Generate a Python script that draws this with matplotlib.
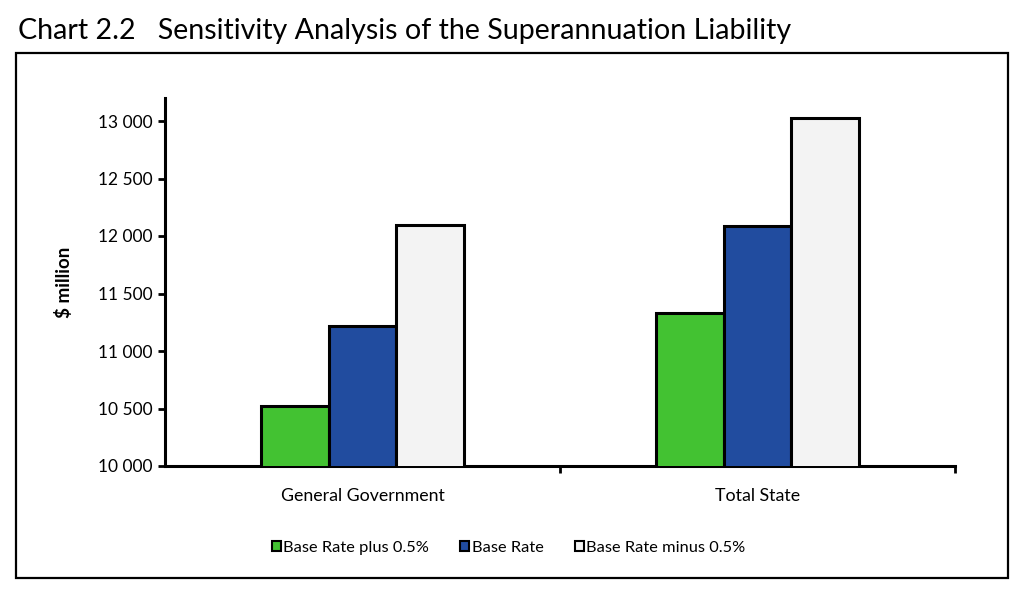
import numpy as np
import matplotlib.pyplot as plt
from matplotlib.patches import Rectangle
from matplotlib.ticker import FuncFormatter

plt.rcParams['font.family'] = ['Lato', 'DejaVu Sans']

# data ($ million)
categories = ['General Government', 'Total State']
series_names = ['Base Rate plus 0.5%', 'Base Rate', 'Base Rate minus 0.5%']
plus_half = [10525, 11330]
base_rate = [11220, 12085]
minus_half = [12100, 13025]
series_colors = ['#43c232', '#214c9f', '#f3f3f3']

fig = plt.figure(figsize=(10.19, 5.90), dpi=100)

# title and outer frame
fig.text(18 / 1019, 1 - 31 / 590, 'Chart 2.2   Sensitivity Analysis of the Superannuation Liability',
         fontsize=20.6, va='center', ha='left')
fig.patches.append(Rectangle((16 / 1019, 1 - 578 / 590), (1008 - 16) / 1019, (578 - 53) / 590,
                             transform=fig.transFigure, fill=False, lw=1.6, ec='black'))

ax = fig.add_axes([165 / 1019, 1 - 466 / 590, (955 - 165) / 1019, (466 - 98) / 590])

x = np.arange(len(categories))
w = 0.171
for i, (vals, name, col) in enumerate(zip([plus_half, base_rate, minus_half], series_names, series_colors)):
    ax.bar(x + (i - 1) * w, vals, width=w, color=col, edgecolor='black', linewidth=2.2,
           label=name, zorder=3)

ax.set_xlim(-0.5, 1.5)
ax.set_ylim(10000, 13200)
ax.set_yticks(np.arange(10000, 13001, 500))
ax.yaxis.set_major_formatter(FuncFormatter(lambda v, p: f'{int(v):,}'.replace(',', ' ')))
ax.set_xticks(x)
ax.set_xticklabels(categories)
ax.set_xticks([0.5, 1.5], minor=True)
ax.tick_params(axis='x', which='major', length=0, pad=16, labelsize=12.8)
ax.tick_params(axis='x', which='minor', length=5, width=2)
ax.tick_params(axis='y', length=5, width=2, labelsize=12.5, pad=4)
ax.set_ylabel('$ million', fontsize=13.5, fontweight='bold', labelpad=18)

for s in ['top', 'right']:
    ax.spines[s].set_visible(False)
for s in ['left', 'bottom']:
    ax.spines[s].set_linewidth(2.2)

leg = ax.legend(loc='center', bbox_to_anchor=(0.435, 1 - (548 - 98) / (466 - 98)), ncol=3,
                frameon=False, fontsize=11.8, handlelength=0.55, handleheight=0.55,
                handletextpad=0.15, columnspacing=1.9)
for h in leg.legend_handles:
    h.set_linewidth(1.5)

fig.savefig('out.png', dpi=100)
